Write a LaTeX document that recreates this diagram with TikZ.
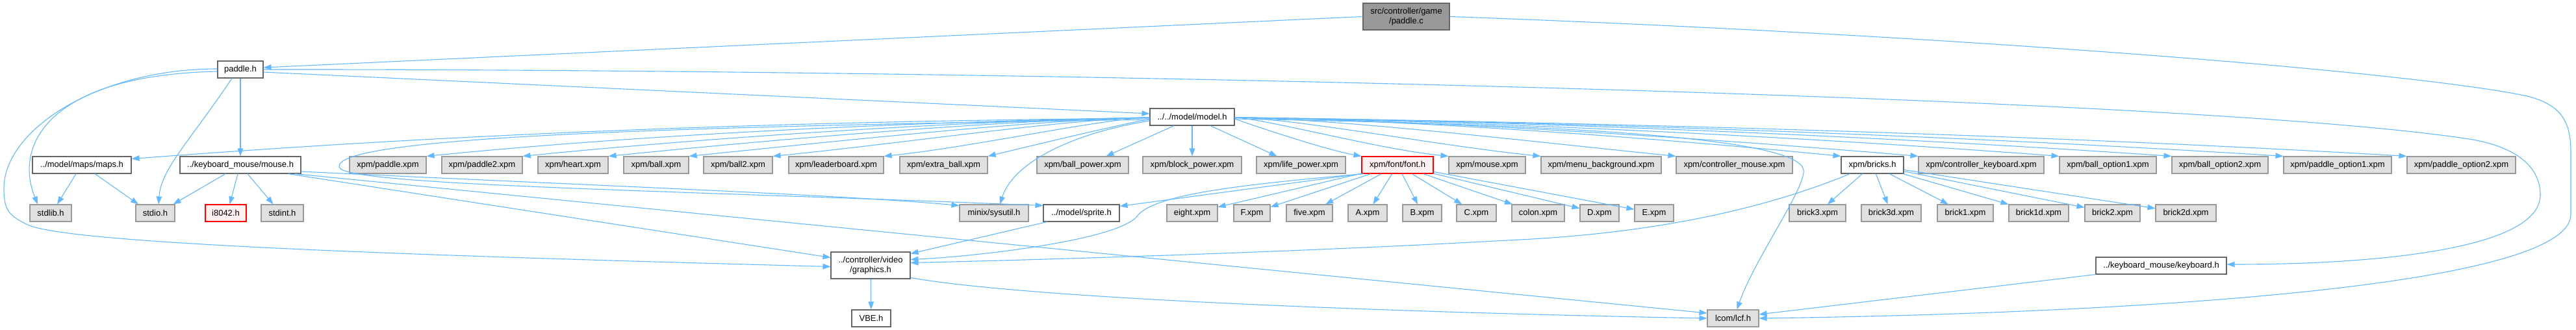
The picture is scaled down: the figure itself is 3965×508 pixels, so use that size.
\documentclass[tikz,border=0pt]{standalone}
\usepackage{fontspec}
\setmainfont{Liberation Sans}
\usetikzlibrary{arrows.meta}
\definecolor{edgec}{HTML}{63B8FF}
\definecolor{bordw}{HTML}{666666}
\definecolor{bordg}{HTML}{999999}
\definecolor{fillg}{HTML}{E0E0E0}
\definecolor{fillroot}{HTML}{999999}
\definecolor{fillred}{HTML}{FFF0F0}
\definecolor{bordred}{HTML}{FF0000}
\tikzset{
  basebox/.style={draw, line width=1.1pt, minimum height=26pt, inner sep=0pt, text=black,
    font=\fontsize{13}{15}\selectfont, align=center},
  wbox/.style={basebox, fill=white, draw=bordw},
  gbox/.style={basebox, fill=fillg, draw=bordg},
  rbox/.style={basebox, fill=fillred, draw=bordred},
  rootbox/.style={basebox, fill=fillroot, draw=bordw, minimum height=41pt},
  edge/.style={draw=edgec, line width=1.1pt, -{Triangle[length=12pt,width=8.5pt]}}
}
\begin{document}
\begin{tikzpicture}[x=1pt,y=-1pt]
\useasboundingbox (0,0) rectangle (3965,508);
% row 0-2
\node[rootbox, minimum width=133pt] (pc) at (2164.5,25.5) {src/controller/game\\/paddle.c};
\node[wbox, minimum width=70pt] (ph) at (370,107) {paddle.h};
\node[wbox, minimum width=130pt] (md) at (1835,180) {../../model/model.h};
% row 3
\node[wbox, minimum width=152pt] (maps) at (126,254) {../model/maps/maps.h};
\node[wbox, minimum width=186pt] (mouse) at (370,254) {../keyboard\_mouse/mouse.h};
\node[gbox, minimum width=118pt] (xpaddle) at (597,254) {xpm/paddle.xpm};
\node[gbox, minimum width=124pt] (xpaddle2) at (742,254) {xpm/paddle2.xpm};
\node[gbox, minimum width=108pt] (xheart) at (882,254) {xpm/heart.xpm};
\node[gbox, minimum width=100pt] (xball) at (1010,254) {xpm/ball.xpm};
\node[gbox, minimum width=106pt] (xball2) at (1136,254) {xpm/ball2.xpm};
\node[gbox, minimum width=146pt] (xlead) at (1287,254) {xpm/leaderboard.xpm};
\node[gbox, minimum width=135pt] (xextra) at (1452.5,254) {xpm/extra\_ball.xpm};
\node[gbox, minimum width=141pt] (xbpow) at (1666.5,254) {xpm/ball\_power.xpm};
\node[gbox, minimum width=152pt] (xblk) at (1835,254) {xpm/block\_power.xpm};
\node[gbox, minimum width=137pt] (xlife) at (2002.5,254) {xpm/life\_power.xpm};
\node[rbox, minimum width=110pt] (font) at (2151,254) {xpm/font/font.h};
\node[gbox, minimum width=118pt] (xmouse) at (2289,254) {xpm/mouse.xpm};
\node[gbox, minimum width=185pt] (xmenu) at (2464.5,254) {xpm/menu\_background.xpm};
\node[gbox, minimum width=179pt] (xcmouse) at (2669.5,254) {xpm/controller\_mouse.xpm};
\node[wbox, minimum width=96pt] (bricks) at (2882,254) {xpm/bricks.h};
\node[gbox, minimum width=193pt] (xckey) at (3049.5,254) {xpm/controller\_keyboard.xpm};
\node[gbox, minimum width=149pt] (xbo1) at (3244.5,254) {xpm/ball\_option1.xpm};
\node[gbox, minimum width=148pt] (xbo2) at (3417,254) {xpm/ball\_option2.xpm};
\node[gbox, minimum width=166pt] (xpo1) at (3598,254) {xpm/paddle\_option1.xpm};
\node[gbox, minimum width=167pt] (xpo2) at (3788.5,254) {xpm/paddle\_option2.xpm};
% row 4
\node[gbox, minimum width=64pt] (stdlib) at (78,328) {stdlib.h};
\node[gbox, minimum width=60pt] (stdio) at (239,328) {stdio.h};
\node[rbox, minimum width=63pt] (i8042) at (347.5,328) {i8042.h};
\node[gbox, minimum width=65pt] (stdint) at (434.5,328) {stdint.h};
\node[gbox, minimum width=106pt] (sysutil) at (1530,328) {minix/sysutil.h};
\node[wbox, minimum width=117pt] (sprite) at (1664.5,328) {../model/sprite.h};
\node[gbox, minimum width=78pt] (eight) at (1835,328) {eight.xpm};
\node[gbox, minimum width=56pt] (Fx) at (1927,328) {F.xpm};
\node[gbox, minimum width=71pt] (five) at (2015.5,328) {five.xpm};
\node[gbox, minimum width=60pt] (Ax) at (2105,328) {A.xpm};
\node[gbox, minimum width=60pt] (Bx) at (2189,328) {B.xpm};
\node[gbox, minimum width=61pt] (Cx) at (2272.5,328) {C.xpm};
\node[gbox, minimum width=81pt] (colon) at (2367.5,328) {colon.xpm};
\node[gbox, minimum width=60pt] (Dx) at (2462,328) {D.xpm};
\node[gbox, minimum width=60pt] (Ex) at (2546,328) {E.xpm};
\node[gbox, minimum width=87pt] (b3) at (2797.5,328) {brick3.xpm};
\node[gbox, minimum width=92pt] (b3d) at (2911,328) {brick3d.xpm};
\node[gbox, minimum width=86pt] (b1) at (3025,328) {brick1.xpm};
\node[gbox, minimum width=92pt] (b1d) at (3138,328) {brick1d.xpm};
\node[gbox, minimum width=85pt] (b2) at (3251.5,328) {brick2.xpm};
\node[gbox, minimum width=93pt] (b2d) at (3364.5,328) {brick2d.xpm};
% row 5-6
\node[wbox, minimum width=122pt, minimum height=41pt] (gfx) at (1340,408.5) {../controller/video\\/graphics.h};
\node[wbox, minimum width=201pt] (kbd) at (3326.5,409) {../keyboard\_mouse/keyboard.h};
\node[wbox, minimum width=60pt] (vbe) at (1341,490) {VBE.h};
\node[gbox, minimum width=79pt] (lcf) at (2667.5,490) {lcom/lcf.h};

% ---- edges from paddle.c
\draw[edge] (pc.west) -- ([yshift=3pt]ph.east);
\draw[edge] (pc.east) .. controls (2965,52) and (3700,108) .. (3890,148)
  .. controls (3945,162) and (3957,190) .. (3957,235) -- (3957,330)
  .. controls (3957,440) and (3300,482) .. (lcf.east);
% ---- edges from paddle.h
\draw[edge] ([yshift=-3pt]ph.west) .. controls (80,115) and (20,220) .. ([xshift=-20pt]stdlib.north);
\draw[edge] ([yshift=1pt]ph.west) .. controls (150,106) and (6,200) .. (6,290)
  .. controls (6,322) and (12,332) .. (45,347)
  .. controls (120,377) and (700,395) .. ([yshift=-2pt]gfx.west);
\draw[edge] ([xshift=-13pt]ph.south) .. controls (290,220) and (248,260) .. ([xshift=5pt]stdio.north);
\draw[edge] (ph) -- (mouse);
\draw[edge] ([yshift=-4pt]ph.east) -- ([yshift=5pt]md.west);
\draw[edge] (ph.east) .. controls (1500,106) and (3350,145) .. (3800,214)
  .. controls (3870,225) and (3910,255) .. (3910,300)
  .. controls (3910,385) and (3650,407) .. ([yshift=2pt]kbd.east);
% ---- edges from maps.h
\draw[edge] ([xshift=-9pt]maps.south) -- ([xshift=10pt]stdlib.north);
\draw[edge] ([xshift=20pt]maps.south) -- ([xshift=-26pt]stdio.north);
% ---- edges from mouse.h
\draw[edge] ([xshift=-23pt]mouse.south) -- ([xshift=-3pt]stdio.north east);
\draw[edge] ([xshift=-4pt]mouse.south) -- ([xshift=6pt]i8042.north);
\draw[edge] ([xshift=11pt]mouse.south) -- ([xshift=-14pt]stdint.north);
\draw[edge] ([yshift=-10pt]mouse.east) .. controls (900,285) and (1300,300) .. ([yshift=-2pt]sysutil.north west);
\draw[edge] ([xshift=-10pt]mouse.south east) -- ([yshift=8pt]lcf.west);
\draw[edge] ([xshift=-20pt]mouse.south east) -- ([yshift=12pt]gfx.west);
% ---- edges from model.h
\draw[edge] ([yshift=-2pt]md.west) .. controls (1000,188) and (500,222) .. ([yshift=-4pt]maps.north east);
\draw[edge] ([yshift=-4pt]md.west) .. controls (1000,195) and (515,212) .. (522,257)
  .. controls (526,285) and (1000,292) .. ([yshift=-2pt]sprite.north west);
\draw[edge] (md) .. controls +(-370,6) and +(370,-37) .. (xpaddle.north east);
\draw[edge] (md) .. controls +(-322,5) and +(322,-32) .. (xpaddle2.north east);
\draw[edge] (md) .. controls +(-278,4) and +(278,-28) .. (xheart.north east);
\draw[edge] (md) .. controls +(-237,4) and +(237,-24) .. (xball.north east);
\draw[edge] (md) .. controls +(-194,3) and +(194,-19) .. (xball2.north east);
\draw[edge] (md) .. controls +(-137,2) and +(137,-14) .. (xlead.north east);
\draw[edge] (md) .. controls +(-83,5) and +(83,-20) .. (xextra.north east);
\draw[edge] ([yshift=-6pt]md.west) .. controls (1650,205) and (1560,250) .. ([xshift=9pt]sysutil.north);
\draw[edge] ([xshift=-28pt]md.south) -- ([xshift=36pt]xbpow.north);
\draw[edge] (md) -- (xblk);
\draw[edge] ([xshift=28pt]md.south) -- ([xshift=-37pt]xlife.north);
\draw[edge] (md) .. controls +(65,3) and +(-65,-12) .. (font.north west);
\draw[edge] (md) .. controls +(110,2) and +(-110,-11) .. (xmouse.north west);
\draw[edge] (md) .. controls +(157,2) and +(-157,-16) .. (xmenu.north west);
\draw[edge] (md) .. controls +(227,3) and +(-227,-23) .. (xcmouse.north west);
\draw[edge] ([yshift=-3pt]md.east) .. controls (2300,190) and (2770,205) .. (2776,262)
  .. controls (2779,290) and (2700,400) .. ([xshift=6pt]lcf.north);
\draw[edge] (md) .. controls +(311,4) and +(-311,-31) .. (bricks.north west);
\draw[edge] (md) .. controls +(351,5) and +(-351,-30) .. (xckey.north west);
\draw[edge] (md) .. controls +(423,6) and +(-423,-32) .. (xbo1.north west);
\draw[edge] (md) .. controls +(481,6) and +(-481,-33) .. (xbo2.north west);
\draw[edge] (md) .. controls +(538,7) and +(-538,-34) .. (xpo1.north west);
\draw[edge] (md) .. controls +(600,8) and +(-600,-35) .. (xpo2.north west);
% ---- edges from font.h
\draw[edge] (font) -- (eight);
\draw[edge] (font) -- (Fx);
\draw[edge] (font) -- (five);
\draw[edge] (font) -- (Ax);
\draw[edge] (font) -- (Bx);
\draw[edge] (font) -- (Cx);
\draw[edge] (font) -- (colon);
\draw[edge] (font) -- (Dx);
\draw[edge] (font) -- (Ex);
\draw[edge] (font.south west) -- ([yshift=-3pt]sprite.north east);
\draw[edge] ([xshift=4pt]font.south west) .. controls (1900,285) and (1775,300) .. (1750,333)
  .. controls (1720,370) and (1500,395) .. ([yshift=9pt]gfx.east);
% ---- edges from bricks.h
\draw[edge] (bricks) -- (b3);
\draw[edge] (bricks) -- (b3d);
\draw[edge] (bricks) -- (b1);
\draw[edge] (bricks) -- (b1d);
\draw[edge] (bricks) -- (b2);
\draw[edge] (bricks) -- (b2d);
\draw[edge] ([xshift=14pt]bricks.south west) .. controls (2720,320) and (2550,360) .. (2319,370)
  .. controls (2000,388) and (1600,400) .. ([yshift=4pt]gfx.east);
% ---- others
\draw[edge] ([xshift=6pt]sprite.south west) -- ([yshift=-3pt]gfx.north east);
\draw[edge] (gfx) -- (vbe);
\draw[edge] ([yshift=2pt]gfx.south east) .. controls (1600,462) and (2200,482) .. (lcf.west);
\draw[edge] (kbd.south west) -- ([yshift=6pt]lcf.east);
\end{tikzpicture}
\end{document}
